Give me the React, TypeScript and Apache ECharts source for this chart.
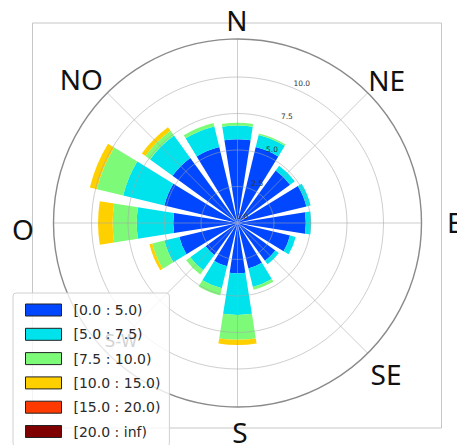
import { useEffect, useRef } from "react";
import * as echarts from "echarts";

// 16 compass sectors, clockwise from north
const directions = [
  "N", "NNE", "NE", "ENE", "E", "ESE", "SE", "SSE",
  "S", "SSW", "SW", "WSW", "W", "WNW", "NW", "NNW",
];

// Wind speed classes
const speedBins = [
  "[0.0 : 5.0)",
  "[5.0 : 7.5)",
  "[7.5 : 10.0)",
  "[10.0 : 15.0)",
  "[15.0 : 20.0)",
  "[20.0 : inf)",
];

// Frequency (%) of each speed class per direction
const speed0to5 = [5.73, 5.35, 4.45, 4.85, 4.68, 3.7, 3.2, 3.2, 3.45, 3.05, 2.7, 4.1, 4.4, 5.15, 5.5, 5.35];
const speed5to7 = [0.95, 0.85, 0.4, 0.3, 0.37, 0.4, 0.3, 1.3, 2.85, 1.55, 1.3, 1.05, 2.5, 2.9, 1.9, 1.45];
const speed7to10 = [0.18, 0.1, 0, 0, 0, 0, 0, 0.2, 1.7, 0.5, 0.35, 0.85, 1.65, 1.85, 0.4, 0.25];
const speed10to15 = [0, 0, 0, 0, 0, 0, 0, 0, 0.36, 0, 0, 0.2, 1.0, 0.5, 0.3, 0];
const speed15to20 = [0, 0, 0, 0, 0, 0, 0, 0, 0, 0, 0, 0, 0, 0, 0, 0];
const speed20plus = [0, 0, 0, 0, 0, 0, 0, 0, 0, 0, 0, 0, 0, 0, 0, 0];

const binValues = [speed0to5, speed5to7, speed7to10, speed10to15, speed15to20, speed20plus];
const binColors = ["#0047ff", "#00e3ec", "#7dfb78", "#ffd000", "#ff3a00", "#7f0000"];

// Radial scale
const radialMax = 12.6;
const ringMax = 10;
const ringStep = 2.5;

export default function App() {
  const ref = useRef<HTMLDivElement>(null);

  useEffect(() => {
    if (!ref.current) return;
    const chart = echarts.init(ref.current, undefined, { renderer: "svg" });
    const center = [237.5, 223];
    const gridColor = "rgba(165,165,165,0.55)";
    const hidden = {
      axisLine: { show: false },
      axisTick: { show: false },
      axisLabel: { show: false },
      splitLine: { show: false },
      splitArea: { show: false },
    };

    const bigText = (text: string, x: number, y: number, align = "center") => ({
      type: "text",
      x,
      y,
      z: 20,
      style: {
        text,
        fill: "#111",
        fontFamily: "Noto Sans",
        fontSize: 28,
        textAlign: align,
        textVerticalAlign: "middle",
      },
    });

    chart.setOption({
      animation: false,
      backgroundColor: "#fff",
      polar: [
        { center, radius: [0, 184] },
        { center, radius: [0, 146] },
        { center, radius: [0, 184] },
        // ring labels sit just outside their rings
        { center, radius: [7, 153] },
      ],
      angleAxis: [
        {
          polarIndex: 0,
          type: "category",
          data: directions,
          startAngle: 90 + 360 / directions.length / 2,
          clockwise: true,
          ...hidden,
        },
        { polarIndex: 1, type: "value", min: 0, max: 360, ...hidden },
        {
          polarIndex: 2,
          type: "value",
          min: 0,
          max: 360,
          interval: 45,
          startAngle: 90,
          z: 10,
          axisLine: { show: true, lineStyle: { color: "#8a8a8a", width: 1.4 } },
          axisTick: { show: false },
          axisLabel: { show: false },
          splitLine: { show: true, lineStyle: { color: gridColor, width: 1 } },
          splitArea: { show: false },
        },
        { polarIndex: 3, type: "value", min: 0, max: 360, startAngle: 66, ...hidden },
      ],
      radiusAxis: [
        { polarIndex: 0, type: "value", min: 0, max: radialMax, ...hidden },
        {
          polarIndex: 1,
          type: "value",
          min: 0,
          max: ringMax,
          interval: ringStep,
          z: 10,
          axisLine: { show: false },
          axisTick: { show: false },
          axisLabel: { show: false },
          splitLine: { show: true, lineStyle: { color: gridColor, width: 1 } },
          splitArea: { show: false },
        },
        { polarIndex: 2, type: "value", min: 0, max: 1, ...hidden },
        {
          polarIndex: 3,
          type: "value",
          min: 0,
          max: ringMax,
          interval: ringStep,
          z: 11,
          axisLine: { show: false },
          axisTick: { show: false },
          splitLine: { show: false },
          splitArea: { show: false },
          axisLabel: {
            show: true,
            margin: 0,
            align: "center",
            verticalAlign: "middle",
            padding: [0, 0, 0, 4],
            fontSize: 7.5,
            fontFamily: "DejaVu Sans",
            color: "#333",
            formatter: (v: number) => v.toFixed(1),
          },
        },
      ],
      legend: {
        orient: "vertical",
        left: 13,
        top: 293,
        height: 170,
        data: speedBins,
        icon: "rect",
        itemWidth: 36,
        itemHeight: 12,
        itemGap: 10.3,
        padding: [10, 9, 8, 12],
        backgroundColor: "rgba(255,255,255,0.8)",
        borderColor: "#d0d0d0",
        borderWidth: 1,
        borderRadius: 3,
        z: 15,
        itemStyle: { borderColor: "#222", borderWidth: 1 },
        textStyle: {
          fontFamily: "DejaVu Sans",
          fontSize: 14,
          lineHeight: 12,
          color: "#2a2a2a",
          padding: [0, 0, 0, 7],
        },
      },
      graphic: [
        {
          type: "rect",
          z: 0,
          shape: { x: 32.5, y: 23, width: 409, height: 405 },
          style: { fill: "none", stroke: "#c6c6c6", lineWidth: 1 },
        },
        {
          type: "text",
          x: 121,
          y: 341,
          z: 1,
          style: {
            text: "S-W",
            fill: "#222",
            fontFamily: "DejaVu Sans",
            fontSize: 17,
            textAlign: "center",
            textVerticalAlign: "middle",
          },
        },
        bigText("N", 237, 19.5),
        bigText("NE", 386.7, 79.7),
        bigText("NO", 81.3, 79),
        bigText("O", 23, 228.5),
        bigText("E", 447, 222, "left"),
        bigText("SE", 386, 374),
        bigText("S", 240, 432),
      ],
      series: speedBins.map((name, i) => ({
        type: "bar",
        name,
        coordinateSystem: "polar",
        polarIndex: 0,
        stack: "rose",
        data: binValues[i],
        barCategoryGap: "20%",
        itemStyle: { color: binColors[i] },
        z: 2,
      })),
    });

    return () => chart.dispose();
  }, []);

  return (
    <div
      ref={ref}
      style={{ position: "fixed", left: 0, top: 0, width: 457, height: 445 }}
    />
  );
}
